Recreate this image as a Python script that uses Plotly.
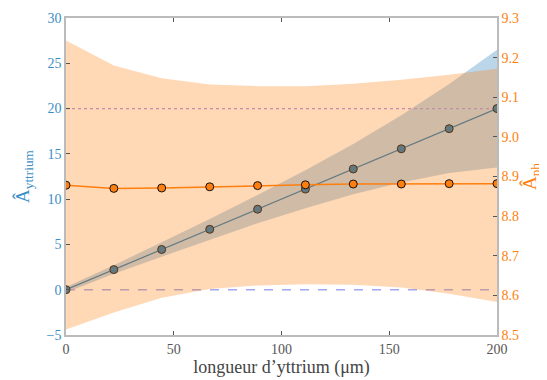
import plotly.graph_objects as go

# longueur d'yttrium (um)
longueur = [0, 22.2, 44.4, 66.7, 88.9, 111.1, 133.3, 155.6, 177.8, 200]

# A_yttrium estimate and its band (left axis)
a_yttrium = [0, 2.22, 4.44, 6.67, 8.89, 11.11, 13.33, 15.56, 17.78, 20.0]
a_yttrium_haut = [0.3, 2.7, 5.25, 7.8, 10.45, 13.2, 16.1, 19.25, 22.7, 26.5]
a_yttrium_bas = [-0.3, 1.75, 3.65, 5.5, 7.35, 9.0, 10.55, 11.85, 12.9, 13.5]

# A_ph estimate and its band (right axis)
a_ph = [8.878, 8.870, 8.871, 8.874, 8.877, 8.879, 8.881, 8.881, 8.882, 8.882]
a_ph_haut = [9.243, 9.180, 9.148, 9.132, 9.128, 9.128, 9.134, 9.144, 9.157, 9.172]
a_ph_bas = [8.514, 8.557, 8.594, 8.616, 8.625, 8.628, 8.627, 8.620, 8.604, 8.583]

# reference levels on the left axis
ref_haut = 20
ref_bas = 0

bleu = '#1f77b4'
orange = '#ff7f0e'
bleu_txt = '#3c8ec6'
serif = "Liberation Serif"

fig = go.Figure()

# --- yttrium (left axis), drawn first so the orange band sits on top
fig.add_trace(go.Scatter(x=longueur, y=a_yttrium_haut, mode='lines',
                         line=dict(width=0), showlegend=False, hoverinfo='skip'))
fig.add_trace(go.Scatter(x=longueur, y=a_yttrium_bas, mode='lines',
                         line=dict(width=0), fill='tonexty',
                         fillcolor='rgba(31,119,180,0.3)',
                         showlegend=False, hoverinfo='skip'))

fig.add_trace(go.Scatter(x=[longueur[0], longueur[-1]], y=[ref_haut, ref_haut],
                         mode='lines', line=dict(color='rgb(170,150,235)', width=1.2, dash='dot'),
                         showlegend=False))
fig.add_trace(go.Scatter(x=[longueur[0], longueur[-1]], y=[ref_bas, ref_bas],
                         mode='lines', line=dict(color='#a0a8f2', width=1.5, dash='dash'),
                         showlegend=False))

fig.add_trace(go.Scatter(x=longueur, y=a_yttrium, mode='lines+markers',
                         line=dict(color=bleu, width=1.2),
                         marker=dict(color=bleu, size=8, line=dict(color='#111', width=1)),
                         showlegend=False))

# --- ph (right axis)
fig.add_trace(go.Scatter(x=longueur, y=a_ph_haut, mode='lines', yaxis='y2',
                         line=dict(width=0), showlegend=False, hoverinfo='skip'))
fig.add_trace(go.Scatter(x=longueur, y=a_ph_bas, mode='lines', yaxis='y2',
                         line=dict(width=0), fill='tonexty',
                         fillcolor='rgba(255,127,14,0.3)',
                         showlegend=False, hoverinfo='skip'))
fig.add_trace(go.Scatter(x=longueur, y=a_ph, mode='lines+markers', yaxis='y2',
                         line=dict(color=orange, width=1.5),
                         marker=dict(color=orange, size=8, line=dict(color='#111', width=1)),
                         showlegend=False))

axe = dict(showline=True, linecolor='#bbbbbb', linewidth=1.5, ticks='inside',
           ticklen=4, tickcolor='#555', showgrid=False, zeroline=False, automargin=False)

# the page body adds an 8 px offset, so the figure is a bit smaller than the window
fig.update_layout(
    width=539, height=372,
    margin=dict(l=58, r=50, t=10, b=45),
    plot_bgcolor='white', paper_bgcolor='white',
    font=dict(family=serif, size=14),
    xaxis=dict(axe, range=[0, 200], tickvals=[0, 50, 100, 150, 200], mirror='ticks',
               tickfont=dict(color='#555', size=14),
               title=dict(text='longueur d’yttrium (μm)', font=dict(size=18, color='#444'),
                          standoff=2)),
    yaxis=dict(axe, range=[-5, 30], tickvals=[-5, 0, 5, 10, 15, 20, 25, 30],
               ticktext=['−5', '0', '5', '10', '15', '20', '25', '30'],
               tickfont=dict(color=bleu_txt, size=14),
               title=dict(text='Â<sub>yttrium</sub>', font=dict(size=19, color=bleu_txt),
                          standoff=12)),
    yaxis2=dict(axe, range=[8.5, 9.3], overlaying='y', side='right',
                tickvals=[8.5, 8.6, 8.7, 8.8, 8.9, 9.0, 9.1, 9.2, 9.3],
                ticktext=['8.5', '8.6', '8.7', '8.8', '8.9', '9.0', '9.1', '9.2', '9.3'],
                tickfont=dict(color=orange, size=14),
                title=dict(text='Â<sub>ph</sub>', font=dict(size=19, color=orange),
                           standoff=0)),
)

fig.write_html("out.html")
